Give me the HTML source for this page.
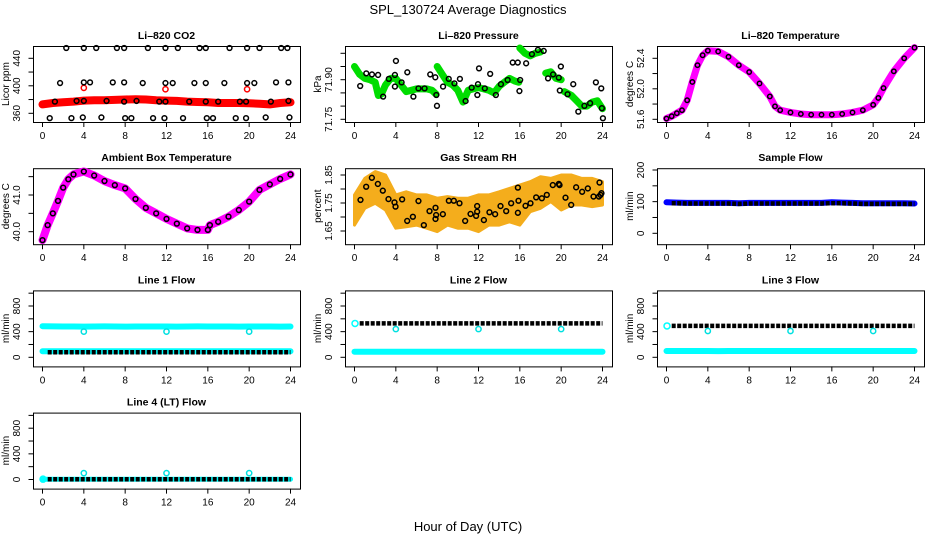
<!DOCTYPE html>
<html><head><meta charset="utf-8">
<style>
html,body{margin:0;padding:0;background:#fff;}
svg{display:block;font-family:"Liberation Sans",Arial,sans-serif;}
</style></head>
<body>
<svg id="chart" width="936" height="540" viewBox="0 0 936 540" xmlns="http://www.w3.org/2000/svg">
<rect x="0" y="0" width="936" height="540" fill="#fff"/>
<text x="468" y="14" text-anchor="middle" font-size="13">SPL_130724  Average Diagnostics</text>
<text x="468" y="531" text-anchor="middle" font-size="13">Hour of Day (UTC)</text>
</svg>
<script>
// ---------- data ----------
const xTickHours=[0,4,8,12,16,20,24];
// CO2
const co2BandH=[0,1,2,3,4,5,6,7,8,9,10,11,12,13,14,15,16,17,18,19,20,21,22,23,24];
const co2BandV=[373,375,376,377,378.5,379,379,379.5,380,380.5,380,379,378.5,378,377,376.5,376,375,375,375,374.5,374,373,375,376];
const co2PtH=[2.3,4.0,5.2,7.2,7.9,10.2,11.9,13.1,15.2,15.8,18.1,19.8,21.0,23.1,23.7,
 1.7,4.0,4.6,6.8,7.9,9.7,11.9,12.6,14.7,15.8,17.6,19.8,20.5,22.6,23.8,
 0.7,2.8,3.9,5.7,8.0,8.6,10.7,11.8,13.6,15.9,16.5,18.7,19.7,21.6,23.9,
 1.2,3.3,4.0,6.2,7.9,9.1,11.3,11.9,14.2,15.8,17.0,19.1,19.7,22.1,23.8];
const co2PtV=[455,455,455,455,455,455,455,455,455,455,455,455,455,455,455,
 404,405,405,405,405,404,404,404,404,404,404,404,404,405,405,
 353,353,354,354,353,353,353,353,353,353,353,353,353,354,354,
 377,378,378,378,377,378,377,377,377,377,377,377,377,377,378];
const co2RedH=[4.0,11.9,19.8];
const co2RedV=[397,395,395];
// Pressure
const presBandH=[0,0.5,1,1.5,2,2.3,2.6,3,3.5,4,4.5,5,5.5,6,6.5,7,7.5,7.9,7.95,8,8.5,9,9.5,10,10.5,11,11.5,12,12.5,13,13.5,14,14.5,15,15.5,15.9,15.95,16,16.5,17,17.5,18,18.4,18.5,19,19.5,20,20.2,20.3,21,21.5,22,22.5,23,23.5,24];
const presBandV=[71.95,71.92,71.905,71.90,71.89,71.84,71.845,71.88,71.905,71.905,71.88,71.855,71.86,71.865,71.865,71.865,71.86,71.845,null,71.95,71.92,71.89,71.88,71.86,71.815,71.86,71.865,71.87,71.865,71.86,71.85,71.875,71.89,71.905,71.895,71.89,null,72.02,72.0,71.99,72.0,72.005,null,71.925,71.93,71.905,71.9,null,71.855,71.84,71.82,71.80,71.80,71.815,71.82,71.79];
const presPtH=[0.55,1.14,1.69,2.28,2.77,3.32,3.91,4.01,3.91,4.56,5.11,5.70,6.19,6.78,7.33,7.82,7.92,7.98,8.57,9.12,9.67,10.20,10.75,11.34,11.89,11.95,12.05,12.61,13.13,13.68,14.17,14.82,15.31,15.80,15.96,16.03,16.61,17.17,17.75,18.31,18.73,19.22,19.77,19.97,19.87,20.62,21.17,21.66,22.25,22.80,23.36,23.88,23.94,24.04];
const presPtV=[71.876,71.924,71.920,71.918,71.836,71.903,71.918,71.971,71.874,71.890,71.928,71.836,71.867,71.867,71.920,71.909,71.842,71.801,71.874,71.903,71.886,71.903,71.819,71.870,71.842,71.883,71.943,71.867,71.922,71.842,71.883,71.899,71.965,71.965,71.857,71.899,71.962,71.997,72.013,72.009,71.905,71.920,71.908,71.950,71.859,71.845,71.883,71.779,71.801,71.811,71.890,71.867,71.792,71.754];
// Li-820 temperature
const tempH=[0,0.5,1,1.5,2,2.5,3,3.5,4,5,6,7,8,9,10,10.5,11,12,13,14,15,16,17,18,19,20,20.5,21,22,23,24];
const tempV=[51.61,51.64,51.68,51.72,51.85,52.09,52.31,52.44,52.50,52.49,52.42,52.31,52.22,52.07,51.90,51.77,51.72,51.69,51.67,51.66,51.66,51.66,51.67,51.69,51.72,51.79,51.88,52.01,52.23,52.40,52.54];
// Ambient box temperature
const ambH=[0,0.5,1,1.5,2,2.5,3,4,5,6,7,8,9,10,11,12,13,14,15,16,16.2,17,18,19,20,21,22,23,24];
const ambV=[39.77,40.18,40.5,40.84,41.2,41.43,41.56,41.64,41.53,41.38,41.27,41.18,40.89,40.65,40.5,40.35,40.22,40.09,40.05,40.05,40.18,40.27,40.41,40.59,40.82,41.14,41.29,41.44,41.56];
// Gas stream RH
const rhH=[0,1,2,3,4,5,6,7,8,9,10,11,12,13,14,15,16,17,18,19,20,21,22,23,24];
const rhUpper=[1.779,1.838,1.862,1.850,1.779,1.790,1.779,1.779,1.767,1.773,1.767,1.767,1.779,1.779,1.790,1.802,1.814,1.826,1.844,1.838,1.850,1.850,1.838,1.838,1.826];
const rhLower=[1.671,1.731,1.749,1.725,1.660,1.665,1.671,1.660,1.648,1.671,1.660,1.660,1.648,1.671,1.671,1.683,1.671,1.719,1.731,1.755,1.725,1.743,1.743,1.737,1.743];
const rhPtH=[0.58,1.13,1.68,2.26,2.74,3.29,3.87,3.97,4.61,5.10,5.65,6.19,6.71,7.26,7.84,7.90,7.84,8.55,9.13,9.61,10.16,10.71,11.23,11.77,11.87,11.87,12.52,13.06,13.61,14.13,14.68,15.16,15.81,15.87,15.81,16.55,17.03,17.58,18.13,18.61,19.19,19.77,19.84,20.42,20.97,21.45,22.03,22.58,23.13,23.65,23.71,23.81,23.90];
const rhPtV=[1.761,1.808,1.840,1.818,1.794,1.764,1.752,1.737,1.763,1.686,1.701,1.757,1.671,1.721,1.733,1.707,1.693,1.710,1.758,1.758,1.749,1.686,1.711,1.704,1.739,1.719,1.689,1.717,1.710,1.739,1.721,1.749,1.805,1.758,1.715,1.740,1.749,1.770,1.767,1.779,1.814,1.818,1.814,1.769,1.743,1.806,1.790,1.802,1.773,1.773,1.823,1.779,1.785];
// Flows (hourly)
const flowH=[0,1,2,3,4,5,6,7,8,9,10,11,12,13,14,15,16,17,18,19,20,21,22,23,24];
const blackH=[0.5,1,2,3,4,5,6,7,8,9,10,11,12,13,14,15,16,17,18,19,20,21,22,23,24];
const sampleBlue=[98,97,96,96,96,96,96,95,96,96,96,96,96,96,96,96,98,97,96,95,95,95,95,95,94];
const sampleBlack=[95,95,94,94,94,94,94,93,94,94,94,94,94,94,94,94,95,95,94,93,93,93,93,93,93];
const line1Upper=[485,482,480,481,479,480,482,480,479,481,480,480,481,479,480,482,480,481,480,479,480,481,480,479,480];
const line1Lower=[95,95,94,95,95,95,94,95,95,95,95,94,95,95,95,95,95,94,95,95,95,95,94,95,95];
const line1Black=[78,78,78,78,78,78,78,78,78,78,78,78,78,78,78,78,78,78,78,78,78,78,78,78,78];
const line2Lower=[85,85,85,85,85,85,85,85,85,85,85,85,85,85,85,85,85,85,85,85,85,85,85,85,85];
const line2Black=[528,528,528,528,528,528,528,528,528,528,528,528,528,528,528,528,528,528,528,528,528,528,528,528,528];
const line3Lower=[98,98,98,98,98,97,98,98,98,98,98,98,98,98,98,98,99,98,98,98,98,98,98,98,98];
const line3Black=[489,489,489,489,489,489,489,489,489,489,489,489,489,489,489,489,489,489,489,489,489,489,489,489,489];
const line4Lower=[5,5,5,5,5,5,5,5,5,5,5,5,5,5,5,5,5,5,5,5,5,5,5,5,5];
const line4Black=[5,5,5,5,5,5,5,5,5,5,5,5,5,5,5,5,5,5,5,5,5,5,5,5,5];
const outlierH=[4,12,20];
const line1Out=[400,400,400];
const line2Out=[440,440,440];
const line3Out=[410,410,410];
const line4Out=[100,100,100];
const startH=[0.05];
const line2Start=[528];
const line3Start=[489];
const line4Start=[5];

// ---------- drawing ----------
const NS='http://www.w3.org/2000/svg';
const svg=document.getElementById('chart');
const XS=248/24;
function mk(tag,attrs,parent){const e=document.createElementNS(NS,tag);for(const k in attrs)e.setAttribute(k,attrs[k]);(parent||svg).appendChild(e);return e;}

function makePanel(c,r,name,title,ylab,cal,ticks,labels){
  const L=33+312*c, T=46+122.2*r, W=267, H=76;
  const g=mk('g',{});
  
  
  const x=h=>L+9.5+h*XS;
  const y=v=>T+cal[0][1]+(v-cal[0][0])*(cal[1][1]-cal[0][1])/(cal[1][0]-cal[0][0]);
  const box=mk('rect',{x:L+.5,y:T+.5,width:W,height:H,fill:'none',stroke:'#000','stroke-width':1},g);
  
  
  const t=mk('text',{x:L+W/2,y:T-7,'text-anchor':'middle','font-size':10.5,'font-weight':'bold'},g);
  t.textContent=title;
  
  
  xTickHours.forEach(h=>{
    const tk=mk('line',{x1:x(h),x2:x(h),y1:T+H,y2:T+H+5,stroke:'#000'},g);
    
    
    const lb=mk('text',{x:x(h),y:T+H+17,'text-anchor':'middle','font-size':10},g);
    lb.textContent=String(h);
    
    
  });
  const ya=mk('line',{x1:L+.5,x2:L+.5,y1:y(ticks[0]),y2:y(ticks[ticks.length-1]),stroke:'#000'},g);
  
  
  ticks.forEach(v=>{
    const tk=mk('line',{x1:L-4.5,x2:L+.5,y1:y(v),y2:y(v),stroke:'#000'},g);
    
    
  });
  labels.forEach(lbv=>{
    const lb=mk('text',{x:L-13,y:y(lbv[0]),'text-anchor':'middle','font-size':10,transform:`rotate(-90 ${L-13} ${y(lbv[0])})`},g);
    lb.textContent=lbv[1];
    
    
  });
  const yt=mk('text',{x:L-24,y:T+H/2,'text-anchor':'middle','font-size':10,transform:`rotate(-90 ${L-24} ${T+H/2})`},g);
  yt.textContent=ylab;
  
  
  return {x,y,g};
}

function pathD(P,hs,vs){let d='',pen=false;hs.forEach((h,i)=>{const v=vs[i];if(v===null||v===undefined){pen=false;return;}d+=(pen?'L':'M')+P.x(h).toFixed(1)+','+P.y(v).toFixed(1);pen=true;});return d;}
function band(P,hs,vs,color,w,name,dash){
  const p=mk('path',{d:pathD(P,hs,vs),fill:'none',stroke:color,'stroke-width':w,'stroke-linecap':dash?'butt':'round','stroke-linejoin':'round'},P.g);
  if(dash)p.setAttribute('stroke-dasharray',dash);
  
  
}
function pts(P,hs,vs,color,rad,name){
  hs.forEach((h,i)=>{const v=vs[i];if(v===null||v===undefined)return;
    const ci=mk('circle',{cx:P.x(h),cy:P.y(v),r:rad,fill:'none',stroke:color,'stroke-width':1.5},P.g);
    
    
  });
}

let P=makePanel(0,0,'panel-co2','Li\u2013820 CO2','Licor ppm',[[360,67.3],[440,12.3]],[360,380,400,420,440],[[360,'360'],[400,'400'],[440,'440']]);
band(P,co2BandH,co2BandV,'#ff0000',8,'co2-band');
pts(P,co2RedH,co2RedV,'#ff0000',2.6,'co2-red-point');
pts(P,co2PtH,co2PtV,'#000',2.4,'co2-point');

P=makePanel(1,0,'panel-pressure','Li\u2013820 Pressure','kPa',[[71.75,73.3],[71.95,20.5]],[71.75,71.80,71.85,71.90,71.95,72.00],[[71.75,'71.75'],[71.90,'71.90']]);
band(P,presBandH,presBandV,'#00dd00',7,'pressure-band');
pts(P,presPtH,presPtV,'#000',2.4,'pressure-point');

P=makePanel(2,0,'panel-temperature','Li\u2013820 Temperature','degrees C',[[51.6,73.3],[52.4,12.3]],[51.6,51.8,52.0,52.2,52.4],[[51.6,'51.6'],[52.0,'52.0'],[52.4,'52.4']]);
band(P,tempH,tempV,'#ff00ff',7,'temperature-band');
pts(P,tempH,tempV,'#000',2.2,'temperature-point');

P=makePanel(0,1,'panel-ambient','Ambient Box Temperature','degrees C',[[40,63.5],[41,26.8]],[40,40.5,41,41.5],[[40,'40.0'],[41,'41.0']]);
band(P,ambH,ambV,'#ff00ff',8,'ambient-band');
pts(P,ambH,ambV,'#000',2.4,'ambient-point');

P=makePanel(1,1,'panel-rh','Gas Stream RH','percent',[[1.65,62.8],[1.85,6.8]],[1.65,1.70,1.75,1.80,1.85],[[1.65,'1.65'],[1.75,'1.75'],[1.85,'1.85']]);
{
  let d='';
  rhH.forEach((h,i)=>{d+=(i?'L':'M')+P.x(h).toFixed(1)+','+P.y(rhUpper[i]).toFixed(1);});
  for(let i=rhH.length-1;i>=0;i--){d+='L'+P.x(rhH[i]).toFixed(1)+','+P.y(rhLower[i]).toFixed(1);}
  const poly=mk('path',{d:d+'Z',fill:'#f4ad1c',stroke:'#f4ad1c','stroke-width':3,'stroke-linejoin':'round'},P.g);
  
  
}
pts(P,rhPtH,rhPtV,'#000',2.4,'rh-point');

P=makePanel(2,1,'panel-sample-flow','Sample Flow','ml/min',[[0,65.1],[200,1.8]],[0,50,100,150,200],[[0,'0'],[100,'100'],[200,'200']]);
band(P,flowH,sampleBlue,'#0000ff',6,'sample-flow-band');
band(P,blackH,sampleBlack,'#000',4.5,'sample-flow-points','4 1.5');

const fcal=[[0,66.9],[800,15.6]];
const fticks=[0,200,400,600,800,1000];
const flab=[[0,'0'],[400,'400'],[800,'800']];
P=makePanel(0,2,'panel-line1-flow','Line 1 Flow','ml/min',fcal,fticks,flab);
band(P,flowH,line1Upper,'#00ffff',6,'line1-upper-band');
band(P,flowH,line1Lower,'#00ffff',6,'line1-lower-band');
band(P,blackH,line1Black,'#000',4.5,'line1-points','4 1.5');
pts(P,outlierH,line1Out,'#00e0e0',2.6,'line1-outlier');

P=makePanel(1,2,'panel-line2-flow','Line 2 Flow','ml/min',fcal,fticks,flab);
band(P,flowH,line2Lower,'#00ffff',6,'line2-lower-band');
pts(P,startH,line2Start,'#00ffff',3,'line2-start');
band(P,blackH,line2Black,'#000',4.5,'line2-points','4 1.5');
pts(P,outlierH,line2Out,'#00e0e0',2.6,'line2-outlier');

P=makePanel(2,2,'panel-line3-flow','Line 3 Flow','ml/min',fcal,fticks,flab);
band(P,flowH,line3Lower,'#00ffff',6,'line3-lower-band');
pts(P,startH,line3Start,'#00ffff',3,'line3-start');
band(P,blackH,line3Black,'#000',4.5,'line3-points','4 1.5');
pts(P,outlierH,line3Out,'#00e0e0',2.6,'line3-outlier');

P=makePanel(0,3,'panel-line4-flow','Line 4 (LT) Flow','ml/min',fcal,fticks,flab);
band(P,flowH,line4Lower,'#00ffff',5,'line4-band');
pts(P,startH,line4Start,'#00ffff',3,'line4-start');
band(P,blackH,line4Black,'#000',4.5,'line4-points','4 1.5');
pts(P,outlierH,line4Out,'#00e0e0',2.6,'line4-outlier');
</script>
</body></html>
